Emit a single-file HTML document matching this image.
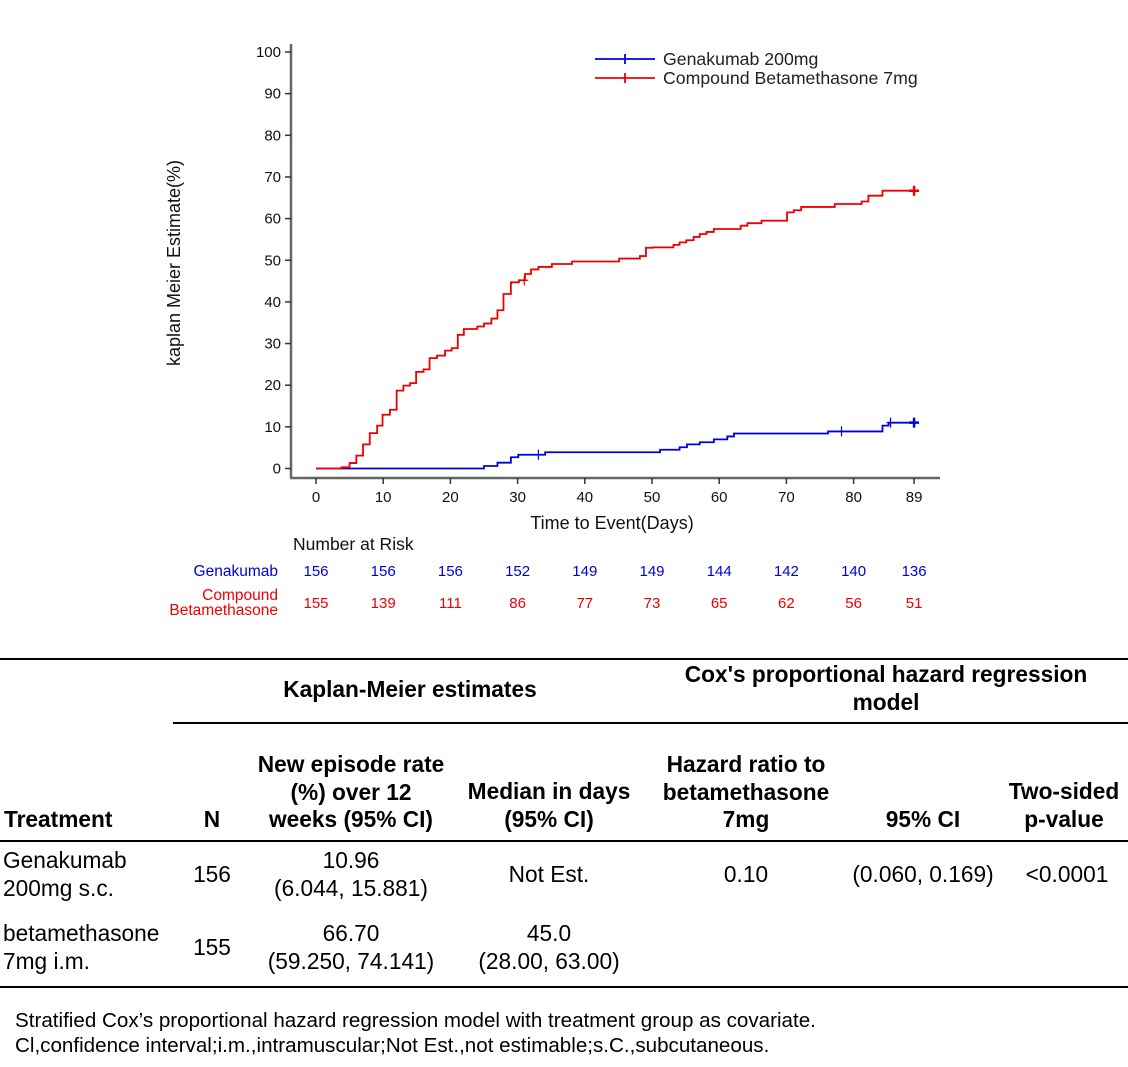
<!DOCTYPE html>
<html><head><meta charset="utf-8"><style>
body{margin:0;background:#fff;width:1128px;height:1067px;overflow:hidden;font-family:"Liberation Sans",Arial,sans-serif;}
svg{position:absolute;left:0;top:0}
.t{position:absolute;font-size:22.7px;color:#000;line-height:27.5px}
.b{font-weight:bold}
.c{text-align:center}
.hl{position:absolute;height:2px;background:#000}
</style></head><body>
<svg id="chart" width="1128" height="650"></svg>

<div class="hl" style="left:0;top:658px;width:1128px"></div>
<div class="hl" style="left:173px;top:722px;width:955px"></div>
<div class="hl" style="left:0;top:840px;width:1128px"></div>
<div class="hl" style="left:0;top:986px;width:1128px"></div>

<div class="t b c" style="left:240px;top:676px;width:340px">Kaplan-Meier estimates</div>
<div class="t b c" style="left:666px;top:661px;width:440px">Cox's proportional hazard regression<br>model</div>
<div class="t b" style="left:4px;top:806px">Treatment</div>
<div class="t b c" style="left:190px;top:806px;width:44px">N</div>
<div class="t b c" style="left:236px;top:751px;width:230px">New episode rate<br>(%) over 12<br>weeks (95% CI)</div>
<div class="t b c" style="left:449px;top:778px;width:200px">Median in days<br>(95% CI)</div>
<div class="t b c" style="left:636px;top:751px;width:220px">Hazard ratio to<br>betamethasone<br>7mg</div>
<div class="t b c" style="left:840px;top:806px;width:166px">95% CI</div>
<div class="t b c" style="left:996px;top:778px;width:136px">Two-sided<br>p-value</div>

<div class="t" style="left:3px;top:847px">Genakumab<br>200mg s.c.</div>
<div class="t c" style="left:190px;top:861px;width:44px">156</div>
<div class="t c" style="left:236px;top:847px;width:230px">10.96<br>(6.044, 15.881)</div>
<div class="t c" style="left:449px;top:861px;width:200px">Not Est.</div>
<div class="t c" style="left:636px;top:861px;width:220px">0.10</div>
<div class="t c" style="left:830px;top:861px;width:186px">(0.060, 0.169)</div>
<div class="t c" style="left:996px;top:861px;width:142px">&lt;0.0001</div>

<div class="t" style="left:3px;top:920px">betamethasone<br>7mg i.m.</div>
<div class="t c" style="left:190px;top:934px;width:44px">155</div>
<div class="t c" style="left:236px;top:920px;width:230px">66.70<br>(59.250, 74.141)</div>
<div class="t c" style="left:449px;top:920px;width:200px">45.0<br>(28.00, 63.00)</div>

<div class="t" style="left:15px;top:1008px;font-size:20.6px;line-height:25px;white-space:nowrap">Stratified Cox’s proportional hazard regression model with treatment group as covariate.<br>Cl,confidence interval;i.m.,intramuscular;Not Est.,not estimable;s.C.,subcutaneous.</div>

<script>
const xTicks=[0,10,20,30,40,50,60,70,80,89];
const yTicks=[0,10,20,30,40,50,60,70,80,90,100];
const redDays=[0,3.8,5,6,7,8,9.1,9.9,11,12,13,14,14.9,16,16.9,18,19.2,20.2,21.1,22,24,25,26.1,27,27.9,29,30.2,31.1,32,33.1,35.1,38.1,45.1,48.2,49.1,50.2,53.2,54.1,55.1,56.2,57.1,58.1,59.2,63.2,64.2,66.3,70.1,71.1,72.2,77.2,81.2,82.2,84.3];
const redVals=[0,0.3,1.3,3.1,5.8,8.5,10.3,12.9,14.1,18.7,19.9,20.5,23.2,23.8,26.5,27.1,28.3,28.9,32.1,33.5,34.1,34.8,36.0,38.0,41.9,44.7,45.2,46.7,47.8,48.4,49.1,49.7,50.4,51.0,53.0,53.1,53.7,54.3,54.8,55.6,56.3,56.8,57.5,58.3,58.9,59.5,61.5,62.0,62.8,63.5,64.1,65.5,66.7];
const redCensor=[31,89];
const blueDays=[0,25,27,29,30.1,34.1,51.2,54.1,55.2,57.1,59.2,61.2,62.2,76.2,84.3,85.2];
const blueVals=[0,0.6,1.4,2.7,3.3,3.9,4.5,5.1,5.8,6.3,7.0,7.7,8.4,8.9,10.3,11.0];
const blueCensor=[33.1,78.2,85.5,89];
const endDay=89;
const riskTimes=[0,10,20,30,40,50,60,70,80,89];
const riskGena=[156,156,156,152,149,149,144,142,140,136];
const riskComp=[155,139,111,86,77,73,65,62,56,51];

const X=d=>316+d*6.72;
const Y=v=>468.5-v*4.165;
const NS='http://www.w3.org/2000/svg';
const svg=document.getElementById('chart');
function mk(tag,attrs,parent){const e=document.createElementNS(NS,tag);for(const k in attrs)e.setAttribute(k,attrs[k]);(parent||svg).appendChild(e);return e;}
function txt(x,y,s,attrs){const e=mk('text',Object.assign({x:x,y:y,'font-family':'Liberation Sans, Arial, sans-serif'},attrs));e.textContent=s;return e;}

const ya=mk('line',{x1:291,y1:44,x2:291,y2:478,stroke:'#666','stroke-width':2.5});


const xa=mk('line',{x1:290,y1:478,x2:940,y2:478,stroke:'#666','stroke-width':2.5});


yTicks.forEach(v=>{
  mk('line',{x1:285,y1:Y(v),x2:291,y2:Y(v),stroke:'#333','stroke-width':1.5});
  const t=txt(281,Y(v)+5,String(v),{'font-size':15,'text-anchor':'end',fill:'#111'});
  
  
});
xTicks.forEach(d=>{
  mk('line',{x1:X(d),y1:478,x2:X(d),y2:484,stroke:'#333','stroke-width':1.5});
  const t=txt(X(d),502,String(d),{'font-size':15,'text-anchor':'middle',fill:'#111'});
  
  
});
const xt=txt(612,529,'Time to Event(Days)',{'font-size':18,'text-anchor':'middle',fill:'#111'});


const yt=txt(0,0,'kaplan Meier Estimate(%)',{'font-size':18,'text-anchor':'middle',fill:'#111',transform:'translate(180,263) rotate(-90)'});



function stepPath(days,vals){
  let d='M'+X(days[0])+','+Y(vals[0]);
  for(let i=1;i<days.length;i++){d+=' H'+X(days[i])+' V'+Y(vals[i]);}
  d+=' H'+X(endDay);return d;
}
function valAt(days,vals,t){let v=vals[0];for(let i=0;i<days.length;i++){if(days[i]<=t)v=vals[i];}return v;}
function series(days,vals,cens,color,name){
  const p=mk('path',{d:stepPath(days,vals),fill:'none',stroke:color,'stroke-width':1.8});
  
  
  cens.forEach(c=>{
    const v=valAt(days,vals,c);const big=c===endDay;
    const g=mk('path',{d:'M'+(X(c)-(big?5:4))+','+Y(v)+' h'+(big?10:8)+' M'+X(c)+','+(Y(v)-5)+' v10',stroke:color,'stroke-width':big?2.5:1.2,fill:'none'});
    
    
  });
}
series(blueDays,blueVals,blueCensor,'#0000dd','genakumab');
series(redDays,redVals,redCensor,'#ee0000','compound');

[[59,'#0000dd','Genakumab 200mg'],[78,'#ee0000','Compound Betamethasone 7mg']].forEach(([y,c,s])=>{
  const l=mk('path',{d:'M595,'+y+' H655 M625,'+(y-5)+' v10',stroke:c,'stroke-width':1.8,fill:'none'});
  
  
  const t=txt(663,y+6,s,{'font-size':17.7,fill:'#222'});
  
  
});

const nr=txt(293,550,'Number at Risk',{'font-size':17.5,fill:'#111'});


const g1=txt(278,576,'Genakumab',{'font-size':15.5,'text-anchor':'end',fill:'#0000dd'});


const c1=txt(278,600,'Compound',{'font-size':15.5,'text-anchor':'end',fill:'#ee0000'});


const c2=txt(278,615,'Betamethasone',{'font-size':15.5,'text-anchor':'end',fill:'#ee0000'});


riskTimes.forEach((d,i)=>{
  const a=txt(X(d),576,String(riskGena[i]),{'font-size':15,'text-anchor':'middle',fill:'#0000dd'});
  
  
  const b=txt(X(d),608,String(riskComp[i]),{'font-size':15,'text-anchor':'middle',fill:'#ee0000'});
  
  
});
</script>
</body></html>
